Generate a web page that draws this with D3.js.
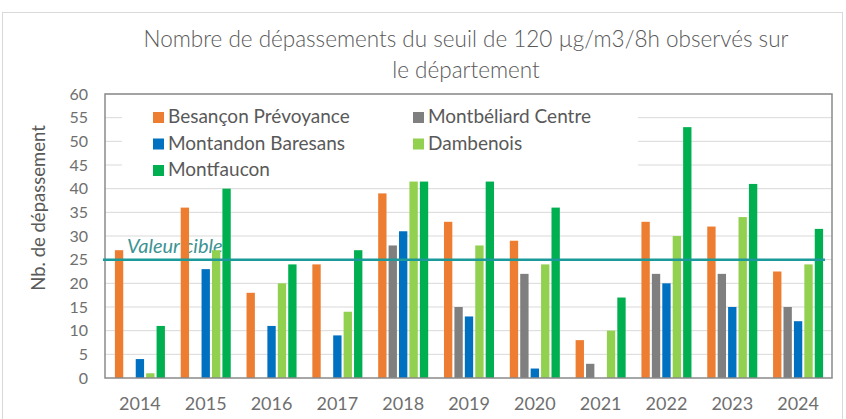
<!DOCTYPE html>
<html>
<head>
<meta charset="utf-8">
<script src="https://cdn.jsdelivr.net/npm/d3@7"></script>
<style>
  body { margin: 0; background: #fff; }
  text { font-family: Lato, "Liberation Sans", sans-serif; }
</style>
</head>
<body>
<script>
    //Declare consts/global variables
        const width = 846;
        const height = 419;
        const plot = {left: 105, right: 832, top: 94, bottom: 378};

    //Data
        const years = ["2014","2015","2016","2017","2018","2019","2020","2021","2022","2023","2024"];
        const stations = ["Besançon Prévoyance","Montbéliard Centre","Montandon Baresans","Dambenois","Montfaucon"];
        const colors = ["#ed7d31","#7f7f7f","#0070c0","#92d050","#00b050"];

        const besancon   = [27, 36, 18, 24, 39, 33, 29, 8, 33, 32, 22.5];
        const montbeliard = [0, 0, 0, 0, 28, 15, 22, 3, 22, 22, 15];
        const montandon  = [4, 23, 11, 9, 31, 13, 2, 0, 20, 15, 12];
        const dambenois  = [1, 27, 20, 14, 41.5, 28, 24, 10, 30, 34, 24];
        const montfaucon = [11, 40, 24, 27, 41.5, 41.5, 36, 17, 53, 41, 31.5];
        const seriesValues = [besancon, montbeliard, montandon, dambenois, montfaucon];

        const yTicks = [0,5,10,15,20,25,30,35,40,45,50,55,60];
        const targetValue = 25;
        const targetLabel = "Valeur cible";

    //Scales
        const x0 = d3.scaleBand()
                     .domain(years)
                     .range([107, 831])
                     .paddingInner(0.24)
                     .paddingOuter(0.12);

        const x1 = d3.scaleBand()
                     .domain(stations)
                     .range([0, x0.bandwidth()])
                     .paddingInner(0.2);

        const yScale = d3.scaleLinear()
                         .domain([0, 60])
                         .range([plot.bottom, plot.top]);

        const color = d3.scaleOrdinal().domain(stations).range(colors);

    //SVG
        const svg = d3.select("body")
                      .append("svg")
                      .attr("width", width)
                      .attr("height", height);

        svg.append("rect")
            .attr("width", width).attr("height", height)
            .attr("fill", "#fff");

        // outer chart frame
        svg.append("rect")
            .attr("x", 2.5).attr("y", 12.5)
            .attr("width", 840).attr("height", 420)
            .attr("fill", "none")
            .attr("stroke", "#d9d9d9");

    //Title
        const title = svg.append("text")
            .attr("text-anchor", "middle")
            .attr("fill", "#595959")
            .style("font-size", "22.5px")
            .style("font-weight", 300);
        title.append("tspan").attr("x", 466).attr("y", 47)
            .text("Nombre de dépassements du seuil de 120 µg/m3/8h observés sur");
        title.append("tspan").attr("x", 466).attr("y", 78)
            .text("le département");

    //Gridlines
        svg.append("g")
            .selectAll("line")
            .data(yTicks.slice(1))
            .enter()
            .append("line")
            .attr("x1", plot.left).attr("x2", plot.right)
            .attr("y1", d => yScale(d)).attr("y2", d => yScale(d))
            .attr("stroke", "#d9d9d9");

    //Legend background
        svg.append("rect")
            .attr("x", 122).attr("y", 96)
            .attr("width", 516).attr("height", 86)
            .attr("fill", "#fff");

    //Axes
        const leftAxis = d3.axisLeft(yScale)
                           .tickValues(yTicks)
                           .tickSize(0)
                           .tickPadding(17);
        const gy = svg.append("g")
            .attr("transform", "translate(" + plot.left + ",0)")
            .call(leftAxis);
        gy.select(".domain").remove();
        gy.selectAll("text")
            .attr("fill", "#6f6f6f")
            .style("font-size", "16px")
            .style("font-family", "Lato, 'Liberation Sans', sans-serif");

        const bottomAxis = d3.axisBottom(x0).tickSize(0).tickPadding(19);
        const gx = svg.append("g")
            .attr("transform", "translate(0," + plot.bottom + ")")
            .call(bottomAxis);
        gx.select(".domain").remove();
        gx.selectAll("text")
            .attr("fill", "#6f6f6f")
            .style("font-size", "18px")
            .style("font-family", "Lato, 'Liberation Sans', sans-serif");

        svg.append("text")
            .attr("transform", "translate(45,208) rotate(-90)")
            .attr("text-anchor", "middle")
            .attr("fill", "#595959")
            .style("font-size", "18.5px")
            .text("Nb. de dépassement");

    //Target label (behind the bars)
        svg.append("text")
            .attr("x", 127).attr("y", 253)
            .attr("fill", "#3d9393")
            .style("font-size", "20px")
            .style("font-style", "italic")
            .text(targetLabel);

    //Bars
        const groups = svg.append("g")
            .selectAll("g")
            .data(years)
            .enter()
            .append("g")
            .attr("transform", d => "translate(" + x0(d) + ",0)");

        groups.selectAll("rect")
            .data((d, i) => stations.map((s, j) => ({station: s, value: seriesValues[j][i]})))
            .enter()
            .append("rect")
            .attr("x", d => x1(d.station))
            .attr("y", d => yScale(d.value))
            .attr("width", x1.bandwidth())
            .attr("height", d => plot.bottom - yScale(d.value))
            .attr("fill", d => color(d.station));

    //Plot border
        svg.append("rect")
            .attr("x", plot.left).attr("y", plot.top)
            .attr("width", plot.right - plot.left)
            .attr("height", plot.bottom - plot.top)
            .attr("fill", "none")
            .attr("stroke", "#8a8a8a")
            .attr("stroke-width", 1.5);

    //Target line
        svg.append("line")
            .attr("x1", plot.left - 2).attr("x2", 825)
            .attr("y1", yScale(targetValue)).attr("y2", yScale(targetValue))
            .attr("stroke", "#1a9a9a")
            .attr("stroke-width", 2.5);

    //Legend
        const legendPos = [[153, 117], [413, 117], [153, 143.5], [413, 143.5], [153, 170]];
        const legend = svg.append("g")
            .selectAll("g")
            .data(stations)
            .enter()
            .append("g")
            .attr("transform", (d, i) => "translate(" + legendPos[i][0] + "," + legendPos[i][1] + ")");

        legend.append("rect")
            .attr("x", 0).attr("y", -5)
            .attr("width", 11).attr("height", 11)
            .attr("fill", d => color(d));

        legend.append("text")
            .attr("x", 15).attr("y", 6)
            .attr("fill", "#595959")
            .style("font-size", "19px")
            .text(d => d);
</script>
</body>
</html>
